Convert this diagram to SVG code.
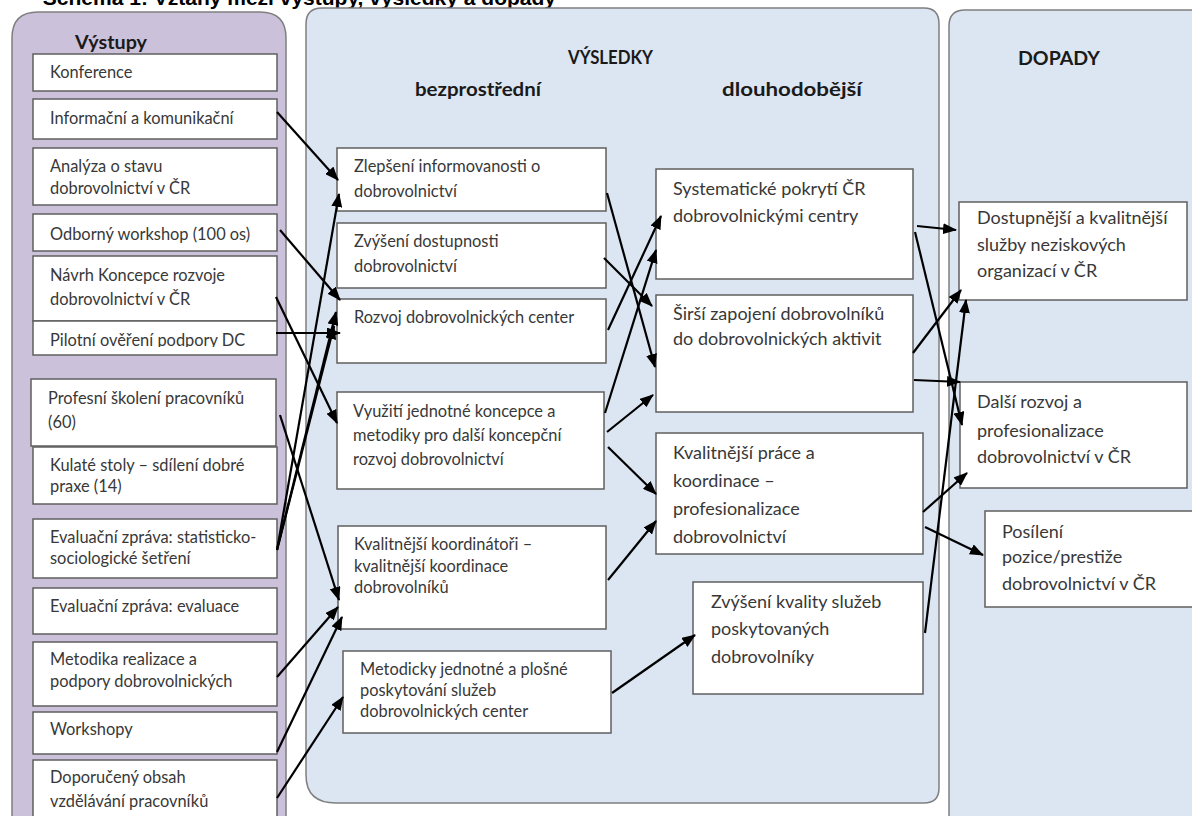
<svg xmlns="http://www.w3.org/2000/svg" width="1192" height="816" viewBox="0 0 1192 816">
<style>
.panelL{fill:#ccc1da;stroke:#7f7f7f;stroke-width:1.5}
.panelB{fill:#dce6f2;stroke:#7f7f7f;stroke-width:1.5}
.box{fill:#ffffff;stroke:#5f5f5f;stroke-width:1.5}
.t{font-family:Lato,"Open Sans","Liberation Sans",sans-serif;font-size:16.4px;fill:#383838}
.t2{font-family:Lato,"Open Sans","Liberation Sans",sans-serif;font-size:18px;fill:#383838}
.h{font-family:Lato,"Open Sans","Liberation Sans",sans-serif;font-size:19px;font-weight:bold;fill:#1a1a1a}
.title{font-family:"Liberation Sans",Arial,sans-serif;font-size:21px;font-weight:bold;fill:#000}
.c{stroke:#000;stroke-width:2.2;fill:none;marker-end:url(#ah)}
</style>
<defs>
<marker id="ah" markerUnits="userSpaceOnUse" markerWidth="15" markerHeight="11" refX="13" refY="5.5" orient="auto">
<path d="M0,0 L14,5.5 L0,11 z" fill="#000"/>
</marker>
<clipPath id="clipPil"><rect x="33" y="321" width="244" height="26"/></clipPath>
</defs>
<rect width="1192" height="816" fill="#ffffff"/>
<text class="title" x="556" y="5" text-anchor="end">Schéma 1: Vztahy mezi výstupy, výsledky a dopady</text>

<g id="panels">
<path class="panelL" d="M12,830 L12,38 Q12,12 38,12 L260,12 Q286,12 286,38 L286,830"/>
<path class="panelB" d="M306,775 L306,24 Q306,8 322,8 L924,8 Q939,8 939,24 L939,788 Q939,803 924,803 L336,803 Q306,803 306,775 Z"/>
<path class="panelB" d="M949,830 L949,26 Q949,10 965,10 L1200,10 L1200,830 Z"/>
<text class="h" x="75" y="49" textLength="72" lengthAdjust="spacingAndGlyphs">Výstupy</text>
<text class="h" x="568" y="64" style="font-size:18.5px" textLength="85" lengthAdjust="spacingAndGlyphs">VÝSLEDKY</text>
<text class="h" x="415" y="96" textLength="126" lengthAdjust="spacingAndGlyphs">bezprostřední</text>
<text class="h" x="722" y="96" textLength="140" lengthAdjust="spacingAndGlyphs">dlouhodobější</text>
<text class="h" x="1018" y="65" textLength="82" lengthAdjust="spacingAndGlyphs">DOPADY</text>
</g>

<g id="vystupy-konference"><rect class="box" x="33" y="54" width="244" height="37"/><text class="t" x="50" y="78">Konference</text></g>
<g id="vystupy-informacni"><rect class="box" x="33" y="99" width="244" height="40"/><text class="t" x="50" y="124">Informační a komunikační</text></g>
<g id="vystupy-analyza"><rect class="box" x="33" y="148" width="244" height="57"/><text class="t" x="50" y="172">Analýza o stavu</text><text class="t" x="50" y="194">dobrovolnictví v ČR</text></g>
<g id="vystupy-odborny"><rect class="box" x="33" y="214" width="244" height="37"/><text class="t" x="50" y="240">Odborný workshop (100 os)</text></g>
<g id="vystupy-navrh"><rect class="box" x="33" y="256" width="244" height="65"/><text class="t" x="50" y="281">Návrh Koncepce rozvoje</text><text class="t" x="50" y="305">dobrovolnictví v ČR</text></g>
<g id="vystupy-pilotni"><rect class="box" x="33" y="321" width="244" height="34"/><text class="t" x="50" y="346" clip-path="url(#clipPil)">Pilotní ověření podpory DC</text></g>
<g id="vystupy-profesni"><rect class="box" x="31" y="379" width="245" height="67"/><text class="t" x="48" y="404">Profesní školení pracovníků</text><text class="t" x="48" y="428">(60)</text></g>
<g id="vystupy-kulate"><rect class="box" x="33" y="447" width="244" height="57"/><text class="t" x="50" y="471">Kulaté stoly – sdílení dobré</text><text class="t" x="50" y="492">praxe (14)</text></g>
<g id="vystupy-eval-stat"><rect class="box" x="33" y="519" width="244" height="59"/><text class="t" x="50" y="543">Evaluační zpráva: statisticko-</text><text class="t" x="50" y="564">sociologické šetření</text></g>
<g id="vystupy-eval"><rect class="box" x="33" y="588" width="244" height="46"/><text class="t" x="50" y="612">Evaluační zpráva: evaluace</text></g>
<g id="vystupy-metodika"><rect class="box" x="33" y="642" width="244" height="64"/><text class="t" x="50" y="665">Metodika realizace a</text><text class="t" x="50" y="687">podpory dobrovolnických</text></g>
<g id="vystupy-workshopy"><rect class="box" x="33" y="712" width="244" height="42"/><text class="t" x="50" y="735">Workshopy</text></g>
<g id="vystupy-doporuceny"><rect class="box" x="33" y="760" width="244" height="70"/><text class="t" x="50" y="783">Doporučený obsah</text><text class="t" x="50" y="807">vzdělávání pracovníků</text></g>

<g id="vysledky-zlepseni"><rect class="box" x="337" y="148" width="269" height="63"/><text class="t" x="354" y="172">Zlepšení informovanosti o</text><text class="t" x="354" y="197">dobrovolnictví</text></g>
<g id="vysledky-zvyseni-dostupnosti"><rect class="box" x="337" y="223" width="269" height="65"/><text class="t" x="354" y="247">Zvýšení dostupnosti</text><text class="t" x="354" y="272">dobrovolnictví</text></g>
<g id="vysledky-rozvoj"><rect class="box" x="337" y="299" width="269" height="64"/><text class="t" x="354" y="323">Rozvoj dobrovolnických center</text></g>
<g id="vysledky-vyuziti"><rect class="box" x="337" y="392" width="267" height="97"/><text class="t" x="353" y="417">Využití jednotné koncepce a</text><text class="t" x="353" y="441">metodiky pro další koncepční</text><text class="t" x="353" y="465">rozvoj dobrovolnictví</text></g>
<g id="vysledky-koordinatori"><rect class="box" x="338" y="526" width="268" height="103"/><text class="t" x="354" y="550">Kvalitnější koordinátoři –</text><text class="t" x="354" y="572">kvalitnější koordinace</text><text class="t" x="354" y="593">dobrovolníků</text></g>
<g id="vysledky-metodicky"><rect class="box" x="343" y="651" width="268" height="82"/><text class="t" x="360" y="675">Metodicky jednotné a plošné</text><text class="t" x="360" y="696">poskytování služeb</text><text class="t" x="360" y="717">dobrovolnických center</text></g>

<g id="vysledky-systematicke"><rect class="box" x="656" y="169" width="257" height="110"/><text class="t2" x="673" y="195">Systematické pokrytí ČR</text><text class="t2" x="673" y="222">dobrovolnickými centry</text></g>
<g id="vysledky-sirsi"><rect class="box" x="656" y="295" width="257" height="117"/><text class="t2" x="673" y="320">Širší zapojení dobrovolníků</text><text class="t2" x="673" y="345">do dobrovolnických aktivit</text></g>
<g id="vysledky-kvalitnejsi-prace"><rect class="box" x="656" y="433" width="267" height="121"/><text class="t2" x="673" y="459">Kvalitnější práce a</text><text class="t2" x="673" y="487">koordinace –</text><text class="t2" x="673" y="515">profesionalizace</text><text class="t2" x="673" y="543">dobrovolnictví</text></g>
<g id="vysledky-zvyseni-kvality"><rect class="box" x="693" y="582" width="230" height="112"/><text class="t2" x="711" y="608">Zvýšení kvality služeb</text><text class="t2" x="711" y="635">poskytovaných</text><text class="t2" x="711" y="663">dobrovolníky</text></g>

<g id="dopady-dostupnejsi"><rect class="box" x="959" y="202" width="228" height="98"/><text class="t2" x="977" y="224">Dostupnější a kvalitnější</text><text class="t2" x="977" y="251">služby neziskových</text><text class="t2" x="977" y="277">organizací v ČR</text></g>
<g id="dopady-dalsi-rozvoj"><rect class="box" x="960" y="382" width="227" height="106"/><text class="t2" x="977" y="408">Další rozvoj a</text><text class="t2" x="977" y="437">profesionalizace</text><text class="t2" x="977" y="463">dobrovolnictví v ČR</text></g>
<g id="dopady-posileni"><rect class="box" x="985" y="511" width="220" height="96"/><text class="t2" x="1002" y="538">Posílení</text><text class="t2" x="1002" y="563">pozice/prestiže</text><text class="t2" x="1002" y="590">dobrovolnictví v ČR</text></g>

<g id="connectors">
<line class="c" x1="277" y1="112" x2="338" y2="180"/>
<line class="c" x1="280" y1="230" x2="340" y2="300"/>
<line class="c" x1="276" y1="297" x2="337" y2="423"/>
<line class="c" x1="276" y1="333" x2="340" y2="333"/>
<line class="c" x1="277" y1="550" x2="339" y2="194"/>
<line class="c" x1="277" y1="550" x2="336" y2="312"/>
<line class="c" x1="277" y1="550" x2="334" y2="326"/>
<line class="c" x1="280" y1="415" x2="339" y2="600"/>
<line class="c" x1="277" y1="677" x2="338" y2="607"/>
<line class="c" x1="277" y1="752" x2="342" y2="617"/>
<line class="c" x1="277" y1="798" x2="343" y2="697"/>

<line class="c" x1="607" y1="193" x2="655" y2="367"/>
<line class="c" x1="604" y1="258" x2="652" y2="306"/>
<line class="c" x1="608" y1="330" x2="661" y2="216"/>
<line class="c" x1="605" y1="413" x2="656" y2="250"/>
<line class="c" x1="607" y1="432" x2="653" y2="395"/>
<line class="c" x1="608" y1="447" x2="656" y2="494"/>
<line class="c" x1="608" y1="580" x2="656" y2="521"/>
<line class="c" x1="612" y1="693" x2="695" y2="635"/>

<line class="c" x1="917" y1="226" x2="956" y2="230"/>
<line class="c" x1="915" y1="232" x2="962" y2="425"/>
<line class="c" x1="913" y1="353" x2="961" y2="290"/>
<line class="c" x1="925" y1="633" x2="966" y2="300"/>
<line class="c" x1="914" y1="380" x2="960" y2="382"/>
<line class="c" x1="923" y1="512" x2="967" y2="473"/>
<line class="c" x1="925" y1="527" x2="983" y2="555"/>
</g>
</svg>
